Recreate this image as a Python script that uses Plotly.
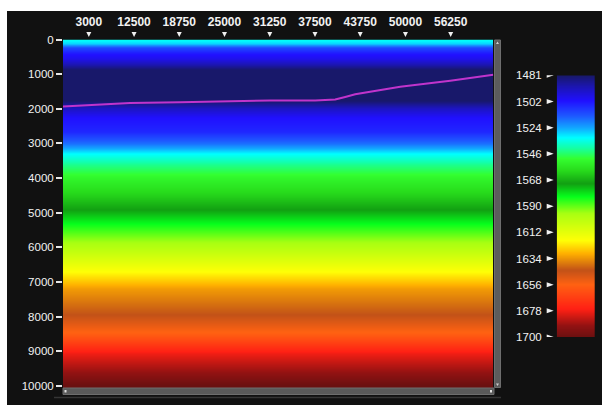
import plotly.graph_objects as go

# ---- data -------------------------------------------------------------
# sound-speed profile (depth in m, velocity in m/s)
depth = [0, 120, 220, 400, 560, 720, 880, 1750, 2000, 2250, 2650, 3000, 3300,
         3600, 4000, 4500, 4900, 5300, 6000, 6700, 7200, 7950, 8500, 9050, 9600, 10000]
velocity = [1534, 1529, 1512, 1503, 1499, 1490, 1481, 1481, 1493, 1502, 1506, 1518, 1533,
            1543, 1553, 1562, 1571, 1582, 1600, 1619, 1633, 1644, 1658, 1678, 1690, 1700]

# horizon pick (distance, depth)
horizon_x = [2683, 11947, 18860, 25083, 31305, 37527, 40293, 41676, 43058, 49280, 56194, 62140]
horizon_depth = [1934, 1833, 1812, 1784, 1760, 1760, 1732, 1659, 1582, 1362, 1189, 1016]

x_tick_vals = [6250, 12500, 18750, 25000, 31250, 37500, 43750, 50000, 56250]
x_tick_text = ["3000", "12500", "18750", "25000", "31250", "37500", "43750", "50000", "56250"]
y_tick_vals = [0, 1000, 2000, 3000, 4000, 5000, 6000, 7000, 8000, 9000, 10000]
y_tick_text = ["0", "1000", "2000", "3000", "4000", "5000", "6000", "7000", "8000", "9000", "10000"]

cbar_tick_vals = [1481, 1502.9, 1524.8, 1546.7, 1568.6, 1590.5, 1612.4, 1634.3, 1656.2, 1678.1, 1700]
cbar_tick_text = ["1481", "1502", "1524", "1546", "1568", "1590", "1612", "1634", "1656", "1678", "1700"]

# colour ramp anchors (velocity -> colour)
ramp_vel = [1481, 1490, 1502, 1515, 1525, 1533, 1541, 1550, 1560, 1571, 1582, 1596,
            1619, 1630, 1644, 1656, 1676, 1690, 1700]
ramp_col = ['#18186a', '#1c16b0', '#2010ff', '#1e5aff', '#12a8ff', '#00ffff', '#14ffa8',
            '#34ff30', '#28dc1c', '#12a012', '#06ff1c', '#a8ff12', '#ffff06', '#ffb000',
            '#c25218', '#ff6212', '#ff2014', '#921212', '#6a1010']

# ---- layout helpers -----------------------------------------------------
W, H = 602, 405
VMIN, VMAX = 1481, 1700


def fx(px):
    return px / W


def fy(py):
    return 1 - py / H


colorscale = [[(v - VMIN) / (VMAX - VMIN), c] for v, c in zip(ramp_vel, ramp_col)]
FONT = "Liberation Sans, Arial, sans-serif"
TXT = "#f2f2f2"
PLOT_L, PLOT_R, PLOT_T, PLOT_B = 63, 493.3, 39.5, 388
BAR_L, BAR_R, BAR_T, BAR_B = 556.7, 595, 75.3, 337

fig = go.Figure()

# velocity section
fig.add_trace(go.Heatmap(
    x=horizon_x, y=depth,
    z=[[v] * len(horizon_x) for v in velocity],
    colorscale=colorscale, zmin=VMIN, zmax=VMAX, zsmooth="best",
    showscale=False, hoverinfo="skip", xaxis="x", yaxis="y"))

# horizon line
fig.add_trace(go.Scatter(
    x=horizon_x, y=horizon_depth, mode="lines",
    line=dict(color="#c034cc", width=2), hoverinfo="skip",
    xaxis="x", yaxis="y"))

# colour legend bar (two columns spanning the bar width)
fig.add_trace(go.Heatmap(
    x=[0.25, 0.75], y=cbar_tick_vals,
    z=[[v, v] for v in cbar_tick_vals],
    colorscale=colorscale, zmin=VMIN, zmax=VMAX, zsmooth="best",
    showscale=False, hoverinfo="skip", xaxis="x2", yaxis="y2"))

shapes = [
    # white page border
    dict(type="rect", xref="paper", yref="paper", x0=0, x1=1, y0=fy(11), y1=1,
         fillcolor="white", line=dict(width=0)),
    dict(type="rect", xref="paper", yref="paper", x0=0, x1=fx(7), y0=0, y1=1,
         fillcolor="white", line=dict(width=0)),
    # vertical scrollbar
    dict(type="rect", xref="paper", yref="paper", x0=fx(494.5), x1=fx(500.5),
         y0=fy(387.5), y1=fy(40), fillcolor="#5c5c5c", line=dict(color="#6e6e6e", width=1)),
    # horizontal scrollbar
    dict(type="rect", xref="paper", yref="paper", x0=fx(63), x1=fx(494),
         y0=fy(394.5), y1=fy(388), fillcolor="#5a5a5a", line=dict(color="#6e6e6e", width=1)),
    dict(type="rect", xref="paper", yref="paper", x0=fx(64.5), x1=fx(66.5),
         y0=fy(392.5), y1=fy(390), fillcolor="#e0e0e0", line=dict(width=0)),
    dict(type="rect", xref="paper", yref="paper", x0=fx(490), x1=fx(492),
         y0=fy(392.5), y1=fy(390), fillcolor="#e0e0e0", line=dict(width=0)),
    dict(type="path", xref="paper", yref="paper",
         path=f"M{fx(496)},{fy(44)} L{fx(499)},{fy(44)} L{fx(497.5)},{fy(41.5)} Z",
         fillcolor="#d0d0d0", line=dict(width=0)),
    dict(type="path", xref="paper", yref="paper",
         path=f"M{fx(496)},{fy(383.5)} L{fx(499)},{fy(383.5)} L{fx(497.5)},{fy(386)} Z",
         fillcolor="#d0d0d0", line=dict(width=0)),
    # bottom rule
    dict(type="line", xref="paper", yref="paper", x0=fx(54), x1=fx(501),
         y0=fy(397.5), y1=fy(397.5), line=dict(color="#353535", width=1.5)),
]

# pointer markers above the distance ticks
for xv in x_tick_vals:
    shapes.append(dict(type="path", xref="x", yref="paper", xanchor=xv, yanchor=fy(PLOT_T),
                       xsizemode="pixel", ysizemode="pixel",
                       path="M-2.5,7.5 L2.5,7.5 L0,2.5 Z",
                       fillcolor="#f0f0f0", line=dict(width=0)))

# pointer markers beside the legend ticks
for v in cbar_tick_vals:
    shapes.append(dict(type="path", xref="paper", yref="y2", xanchor=fx(BAR_L), yanchor=v,
                       xsizemode="pixel", ysizemode="pixel",
                       path="M-10,2.5 L-10,-2.5 L-3,0 Z",
                       fillcolor="#f0f0f0", line=dict(width=0)))

fig.update_layout(
    width=W, height=H, autosize=False,
    margin=dict(l=0, r=0, t=0, b=0, pad=0, autoexpand=False),
    paper_bgcolor="#111111", plot_bgcolor="#111111",
    showlegend=False,
    font=dict(family=FONT, color=TXT, size=11),
    xaxis=dict(domain=[fx(PLOT_L), fx(PLOT_R)], range=[2683, 62140], side="top", anchor="y",
               tickvals=x_tick_vals, ticktext=x_tick_text, ticks="outside", ticklen=8,
               tickcolor="rgba(0,0,0,0)", automargin=False,
               tickfont=dict(family=FONT, size=12, color=TXT, weight="bold"),
               showgrid=False, zeroline=False, showline=False, fixedrange=True),
    yaxis=dict(domain=[fy(PLOT_B), fy(PLOT_T)], range=[10058, 0], anchor="x",
               tickvals=y_tick_vals, ticktext=y_tick_text, ticks="outside", ticklen=6,
               tickwidth=2, tickcolor="#e6e6e6", automargin=False,
               tickfont=dict(family=FONT, size=11.5, color=TXT),
               showgrid=False, zeroline=False, showline=False, fixedrange=True),
    xaxis2=dict(domain=[fx(BAR_L), fx(BAR_R)], range=[0, 1], anchor="y2",
                visible=False, fixedrange=True, automargin=False),
    yaxis2=dict(domain=[fy(BAR_B), fy(BAR_T)], range=[1700, 1481], anchor="x2", side="left",
                tickvals=cbar_tick_vals, ticktext=cbar_tick_text, ticks="",
                ticklabelstandoff=14, automargin=False,
                tickfont=dict(family=FONT, size=11.5, color=TXT),
                showgrid=False, zeroline=False, showline=False, fixedrange=True),
    shapes=shapes,
)

fig.write_html("out.html")
